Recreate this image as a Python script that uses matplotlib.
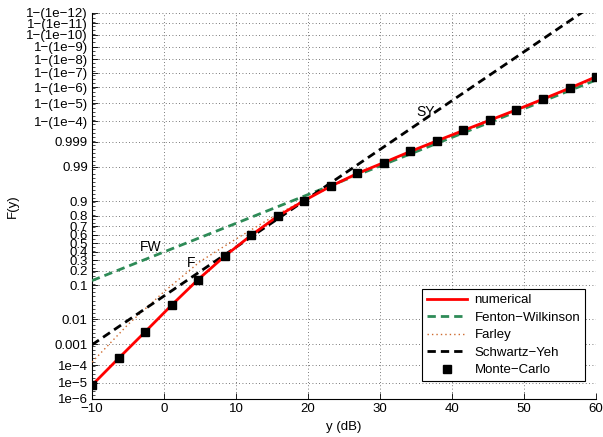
import math
from statistics import NormalDist
import numpy as np
import matplotlib
matplotlib.use("Agg")
import matplotlib.pyplot as plt
from matplotlib.ticker import FixedLocator, FixedFormatter

plt.rcParams['font.family'] = ['Liberation Sans', 'DejaVu Sans']

# ---------------- data ----------------
x_grid = [-10, -6.32, -2.63, 1.05, 4.74, 8.42, 12.11, 15.79, 19.47, 23.16,
          26.84, 30.53, 34.21, 37.89, 41.58, 45.26, 48.95, 52.63, 56.32, 60]

numerical = [7.4e-6, 2.2e-4, 0.0034, 0.0293, 0.134, 0.346, 0.596, 0.795, 0.903, 0.959,
             0.9833, 0.99305, 0.99744, 0.9991, 1 - 2.9e-4, 1 - 8.7e-5, 1 - 2.35e-5,
             1 - 5.5e-6, 1 - 1.12e-6, 1 - 1.9e-7]

monte_carlo = [7.4e-6, 2.2e-4, 0.0034, 0.0293, 0.134, 0.346, 0.596, 0.795, 0.903, 0.959,
               0.9833, 0.99305, 0.99744, 0.9991, 1 - 2.9e-4, 1 - 8.7e-5, 1 - 2.35e-5,
               1 - 5.5e-6, 1 - 1.12e-6, 1 - 1.9e-7]

x_fw = [-10, 0, 10, 20, 30, 40, 50, 60]
fenton_wilkinson = [0.127, 0.395, 0.728, 0.931, 0.99076, 1 - 6.2e-4, 1 - 2.03e-5, 1 - 3.2e-7]

x_farley = [-10, -5, 0, 5, 10, 15, 20, 30, 40, 50, 60]
farley = [1.42e-4, 0.00657, 0.0694, 0.2877, 0.5517, 0.7852, 0.9162, 0.99224,
          1 - 5.2e-4, 1 - 1.8e-5, 1 - 2.45e-7]

x_sy = [-10, 0, 10, 20, 30, 40, 50, 60]
schwartz_yeh = [0.00097, 0.0537, 0.452, 0.9147, 0.99788, 1 - 6.8e-6, 1 - 2.6e-9, 1 - 1.15e-13]

x_ticks = [-10, 0, 10, 20, 30, 40, 50, 60]
x_ticklabels = ['\u221210', '0', '10', '20', '30', '40', '50', '60']
y_ticks = [1e-6, 1e-5, 1e-4, 1e-3, 1e-2, 0.1, 0.2, 0.3, 0.4, 0.5, 0.6, 0.7, 0.8, 0.9,
           0.99, 0.999, 1 - 1e-4, 1 - 1e-5, 1 - 1e-6, 1 - 1e-7, 1 - 1e-8, 1 - 1e-9,
           1 - 1e-10, 1 - 1e-11, 1 - 1e-12]
y_ticklabels = ['1e\u22126', '1e\u22125', '1e\u22124', '0.001', '0.01', '0.1', '0.2', '0.3',
                '0.4', '0.5', '0.6', '0.7', '0.8', '0.9', '0.99', '0.999',
                '1\u2212(1e\u22124)', '1\u2212(1e\u22125)', '1\u2212(1e\u22126)',
                '1\u2212(1e\u22127)', '1\u2212(1e\u22128)', '1\u2212(1e\u22129)',
                '1\u2212(1e\u221210)', '1\u2212(1e\u221211)', '1\u2212(1e\u221212)']

# ---------------- normal probability scale ----------------
_nd = NormalDist()


def _probit_scalar(p):
    if not np.isfinite(p):
        return np.nan
    p = min(max(p, 1e-300), 1 - 1e-16)
    return _nd.inv_cdf(p)


_probit_vec = np.vectorize(_probit_scalar, otypes=[float])


def forward(p):
    return _probit_vec(np.asarray(p, dtype=float))


_cdf_vec = np.vectorize(lambda z: 0.5 * math.erfc(-z / math.sqrt(2.0)) if np.isfinite(z) else np.nan,
                        otypes=[float])


def inverse(z):
    return _cdf_vec(np.asarray(z, dtype=float))


fig = plt.figure(figsize=(6.03, 4.37), dpi=100)
ax = fig.add_axes([0.1526, 0.0870, 0.9884 - 0.1526, 0.971 - 0.0870])
ax.set_yscale('function', functions=(forward, inverse))

green = '#2E8B57'
brown = '#CD6A2E'

ax.plot(x_grid, numerical, color='red', lw=2.0, label='numerical', zorder=4)
ax.plot(x_fw, fenton_wilkinson, color=green, lw=2.0, ls=(0, (3, 1.8)),
        label='Fenton\u2212Wilkinson', zorder=3)
ax.plot(x_farley, farley, color=brown, lw=1.0, ls=(0, (1, 2.2)), label='Farley', zorder=3)
ax.plot(x_sy, schwartz_yeh, color='black', lw=2.0, ls=(0, (3, 1.8)),
        label='Schwartz\u2212Yeh', zorder=3)
ax.plot(x_grid, monte_carlo, ls='none', marker='s', ms=5.8, color='black',
        label='Monte\u2212Carlo', zorder=5)

ax.set_xlim(-10, 60)
ax.set_ylim(1e-6, 1 - 1e-12)

ax.xaxis.set_major_locator(FixedLocator(x_ticks))
ax.xaxis.set_major_formatter(FixedFormatter(x_ticklabels))
ax.yaxis.set_major_locator(FixedLocator(y_ticks))
ax.yaxis.set_major_formatter(FixedFormatter(y_ticklabels))
minor_z = np.arange(-4.75, 7.05, 0.125)
ax.yaxis.set_minor_locator(FixedLocator(inverse(minor_z)))
ax.xaxis.set_minor_locator(FixedLocator([]))

ax.tick_params(axis='both', which='major', direction='in', length=4, width=0.6,
               labelsize=9.5, pad=3)
ax.tick_params(axis='y', which='minor', direction='in', length=2, width=0.5)
ax.tick_params(top=False, right=False)

for s in ['top', 'right']:
    ax.spines[s].set_visible(False)
for s in ['left', 'bottom']:
    ax.spines[s].set_linewidth(0.8)

ax.grid(True, which='major', color='0.3', ls=(0, (1, 3)), lw=0.6)

ax.set_xlabel('y (dB)', fontsize=9.5, labelpad=4)
ax.set_ylabel('F(y)', fontsize=9.5)
ax.yaxis.set_label_coords(-0.145, 0.5)

ax.text(-1.84, 0.452, 'FW', fontsize=10, ha='center', va='center')
ax.text(3.76, 0.27, 'F', fontsize=10, ha='center', va='center')
ax.text(36.3, 1 - 3.2e-5, 'SY', fontsize=10, ha='center', va='center')

leg = ax.legend(loc='lower right', bbox_to_anchor=(0.978, 0.0466), fontsize=9.5,
                frameon=True, fancybox=False, edgecolor='black', framealpha=1,
                handlelength=3.0, borderpad=0.35, labelspacing=0.4, handletextpad=0.6,
                borderaxespad=0)
leg.get_frame().set_linewidth(0.8)

fig.savefig('out.png', dpi=100)
